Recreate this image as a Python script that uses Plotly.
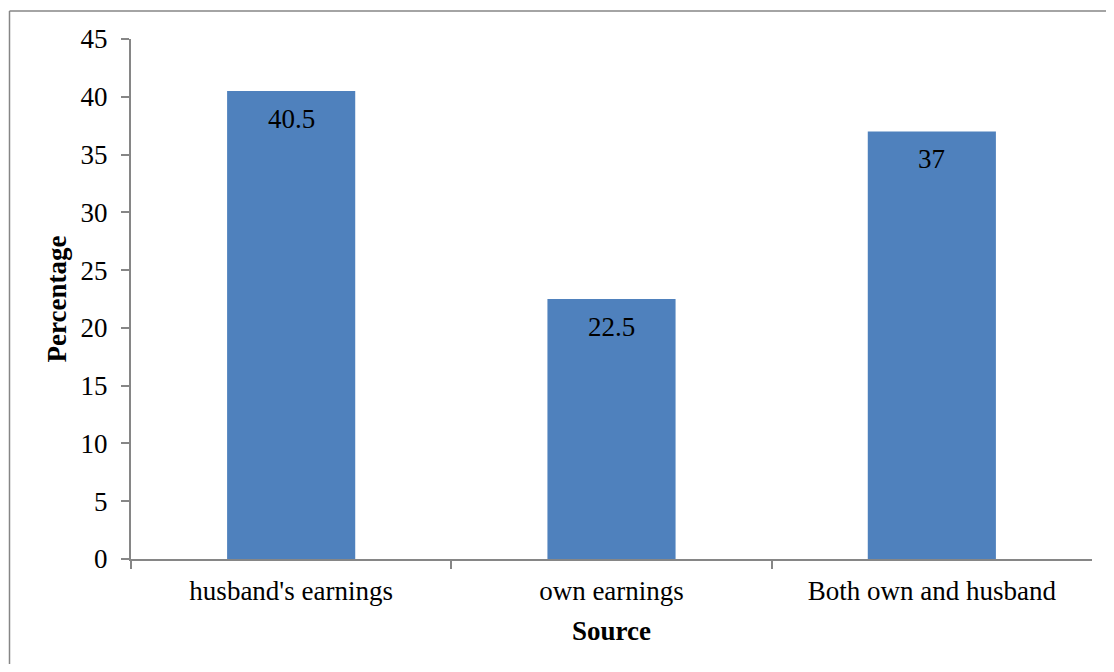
import plotly.graph_objects as go

categories = ["husband's earnings", "own earnings", "Both own and husband"]
values = [40.5, 22.5, 37]
y_ticks = [0, 5, 10, 15, 20, 25, 30, 35, 40, 45]

OFF = 8  # page body margin offset
W, H = 1114 - 2 * OFF, 672 - 2 * OFF
L, T = 131 - OFF, 39 - OFF
R = W - (1092 - OFF)
B = H - (559 - OFF)
pw, ph = W - L - R, H - T - B

FONT = "Liberation Serif, Times New Roman, serif"
AX = "#868686"

fig = go.Figure()
fig.add_trace(go.Bar(
    x=categories, y=values,
    marker=dict(color="#4F81BD", line=dict(width=0)),
    width=0.4,
    hoverinfo="x+y",
))

for c, v in zip(categories, values):
    fig.add_annotation(x=c, y=v, text=str(v), showarrow=False,
                       yanchor="middle", yshift=-28,
                       font=dict(family=FONT, size=27, color="#000000"))

# outer chart border: left and top edges (paper spans the whole figure)
bx0 = 1.5 / W
by1 = 1 - 3 / H
fig.add_shape(type="line", xref="paper", yref="paper",
              x0=bx0, x1=bx0, y0=0, y1=by1,
              line=dict(color=AX, width=1.5), layer="below")
fig.add_shape(type="line", xref="paper", yref="paper",
              x0=bx0, x1=1, y0=by1, y1=by1,
              line=dict(color=AX, width=1.5), layer="below")

fig.update_layout(
    width=W, height=H,
    margin=dict(l=0, r=0, t=0, b=0, pad=0, autoexpand=False),
    paper_bgcolor="white", plot_bgcolor="white",
    font=dict(family=FONT, size=27, color="#000000"),
    showlegend=False,
    bargap=0.6,
    xaxis=dict(
        type="category",
        domain=[L / W, (L + pw) / W],
        showline=True, linecolor=AX, linewidth=2,
        ticks="outside", tickson="boundaries", ticklen=8, tickcolor=AX, tickwidth=1.5,
        showgrid=False, zeroline=False,
        tickfont=dict(family=FONT, size=27),
        ticklabelstandoff=7,
        title=dict(text="<b>Source</b>", font=dict(family=FONT, size=27), standoff=16),
        range=[-0.5, 2.5],
    ),
    yaxis=dict(
        domain=[B / H, (B + ph) / H],
        range=[0, 45], tickvals=y_ticks, ticktext=[str(t) for t in y_ticks],
        showline=True, linecolor=AX, linewidth=2,
        ticks="outside", ticklen=8, tickcolor=AX, tickwidth=1.5,
        showgrid=False, zeroline=False,
        tickfont=dict(family=FONT, size=27),
        ticklabelstandoff=8,
        title=dict(text="<b>Percentage</b>", font=dict(family=FONT, size=27), standoff=6),
    ),
)

fig.write_html("out.html")
